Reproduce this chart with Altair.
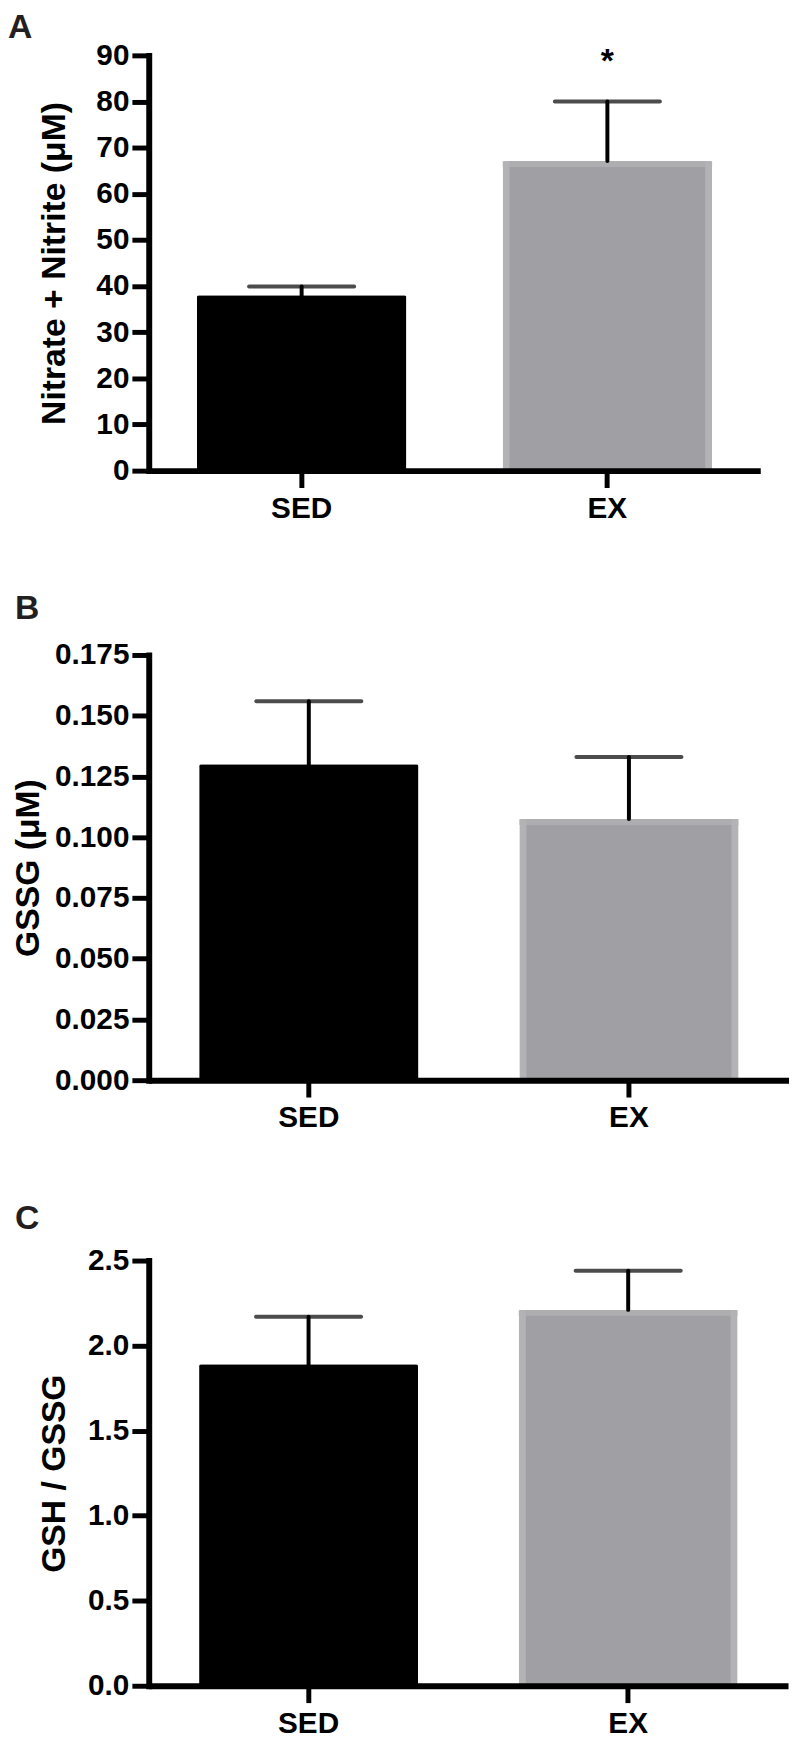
import altair as alt
import pandas as pd

FONT = "Liberation Sans"

groups = ["SED", "EX"]
panel_letters = ["A", "B", "C"]
y_titles = ["Nitrate + Nitrite (\u03bcM)", "GSSG (\u03bcM)", "GSH / GSSG"]

# Panel A: nitrate + nitrite
nox_mean = [38.0, 67.1]
nox_upper = [39.9, 80.0]
nox_ticks = [0, 10, 20, 30, 40, 50, 60, 70, 80, 90]

# Panel B: GSSG
gssg_mean = [0.130, 0.1075]
gssg_upper = [0.156, 0.133]
gssg_ticks = [0.0, 0.025, 0.05, 0.075, 0.1, 0.125, 0.15, 0.175]

# Panel C: GSH / GSSG
ratio_mean = [1.89, 2.21]
ratio_upper = [2.17, 2.44]
ratio_ticks = [0.0, 0.5, 1.0, 1.5, 2.0, 2.5]

# significance marker
star_group = ["EX"]
star_level = [90.4]
star_text = ["*"]

BLACK = "#000000"
EX_EDGE = "#b3b3b5"
EX_FILL = "#a09fa4"
LABEL_SIZE = 30
P_INNER = 0.315
P_OUTER = 0.1575


def panel(means, uppers, ticks, fmt, ymax, title, letter, width, height,
          title_x, letter_x, letter_y, star=False):
    df = pd.DataFrame({"group": groups, "mean": means, "upper": uppers})
    bandwidth = width * (1 - P_INNER) / (len(groups) - P_INNER + 2 * P_OUTER)
    xenc = alt.X(
        "group:N", sort=groups,
        scale=alt.Scale(domain=groups, paddingInner=P_INNER, paddingOuter=P_OUTER),
        axis=alt.Axis(title=None, labelAngle=0, labelFont=FONT, labelFontSize=LABEL_SIZE,
                      labelFontWeight="bold", labelColor=BLACK, labelPadding=6,
                      tickSize=17, tickWidth=5, tickColor=BLACK,
                      domainColor=BLACK, domainWidth=6, zindex=1),
    )
    yscale = alt.Scale(domain=[0, ymax], nice=False, zero=True)
    yaxis = alt.Axis(values=ticks, format=fmt, title=title, titleX=title_x,
                     titleFont=FONT, titleFontSize=34, titleFontWeight="bold",
                     titleColor=BLACK, labelFont=FONT, labelFontSize=LABEL_SIZE,
                     labelFontWeight="bold", labelColor=BLACK, labelPadding=3,
                     tickSize=17, tickWidth=5, tickColor=BLACK,
                     domainColor=BLACK, domainWidth=6, domainCap="square",
                     grid=False, zindex=1)

    def yenc(field):
        return alt.Y(field, type="quantitative", scale=yscale, axis=yaxis, title=title)

    base = alt.Chart(df)
    ex_only = base.transform_filter(alt.datum.group == "EX")
    outer = base.mark_bar(cornerRadius=2).encode(
        x=xenc, y=yenc("mean"),
        color=alt.Color("group:N", scale=alt.Scale(domain=groups, range=[BLACK, EX_EDGE]),
                        legend=None),
    )
    inner = ex_only.mark_bar(color=EX_FILL, width=alt.RelativeBandSize(0.935)).encode(
        x=xenc, y=yenc("mean")
    )
    top_edge = ex_only.mark_tick(color=EX_EDGE, thickness=6, size=bandwidth,
                                 orient="horizontal", yOffset=3).encode(
        x=xenc, y=yenc("mean")
    )
    stem = base.mark_rule(color=BLACK, strokeWidth=4, strokeCap="round").encode(
        x=xenc, y=yenc("mean"), y2="upper:Q"
    )
    cap = base.mark_tick(color=BLACK, thickness=4, size=110, cornerRadius=2,
                         orient="horizontal").encode(x=xenc, y=yenc("upper"))
    lab = alt.Chart(pd.DataFrame({"letter": [letter]})).mark_text(
        font=FONT, fontSize=34, fontWeight="bold", align="left",
        baseline="top", color="#231f20"
    ).encode(x=alt.value(letter_x), y=alt.value(letter_y), text="letter:N")
    layers = [outer, inner, top_edge, stem, cap, lab]
    if star:
        sdf = pd.DataFrame({"group": star_group, "level": star_level, "txt": star_text})
        layers.append(
            alt.Chart(sdf).mark_text(font=FONT, fontSize=34, fontWeight="bold",
                                     baseline="middle", dy=9, color=BLACK)
            .encode(x=xenc, y=yenc("level"), text="txt:N")
        )
    return alt.layer(*layers).properties(width=width, height=height)


pA = panel(nox_mean, nox_upper, nox_ticks, "d", 90, y_titles[0], panel_letters[0],
           617, 419, -78, -142, -45, star=True)
pB = panel(gssg_mean, gssg_upper, gssg_ticks, ".3f", 0.175, y_titles[1], panel_letters[1],
           646, 429, -104, -135, -63)
pC = panel(ratio_mean, ratio_upper, ratio_ticks, ".1f", 2.5, y_titles[2], panel_letters[2],
           645, 429, -78, -135, -59)

chart = alt.vconcat(pA, pB, pC, spacing=70).properties(
    padding={"left": 0, "top": -5, "right": 0, "bottom": 0}
).configure_view(strokeWidth=0)

chart.save("out.html", embed_options={"renderer": "svg", "actions": False})
